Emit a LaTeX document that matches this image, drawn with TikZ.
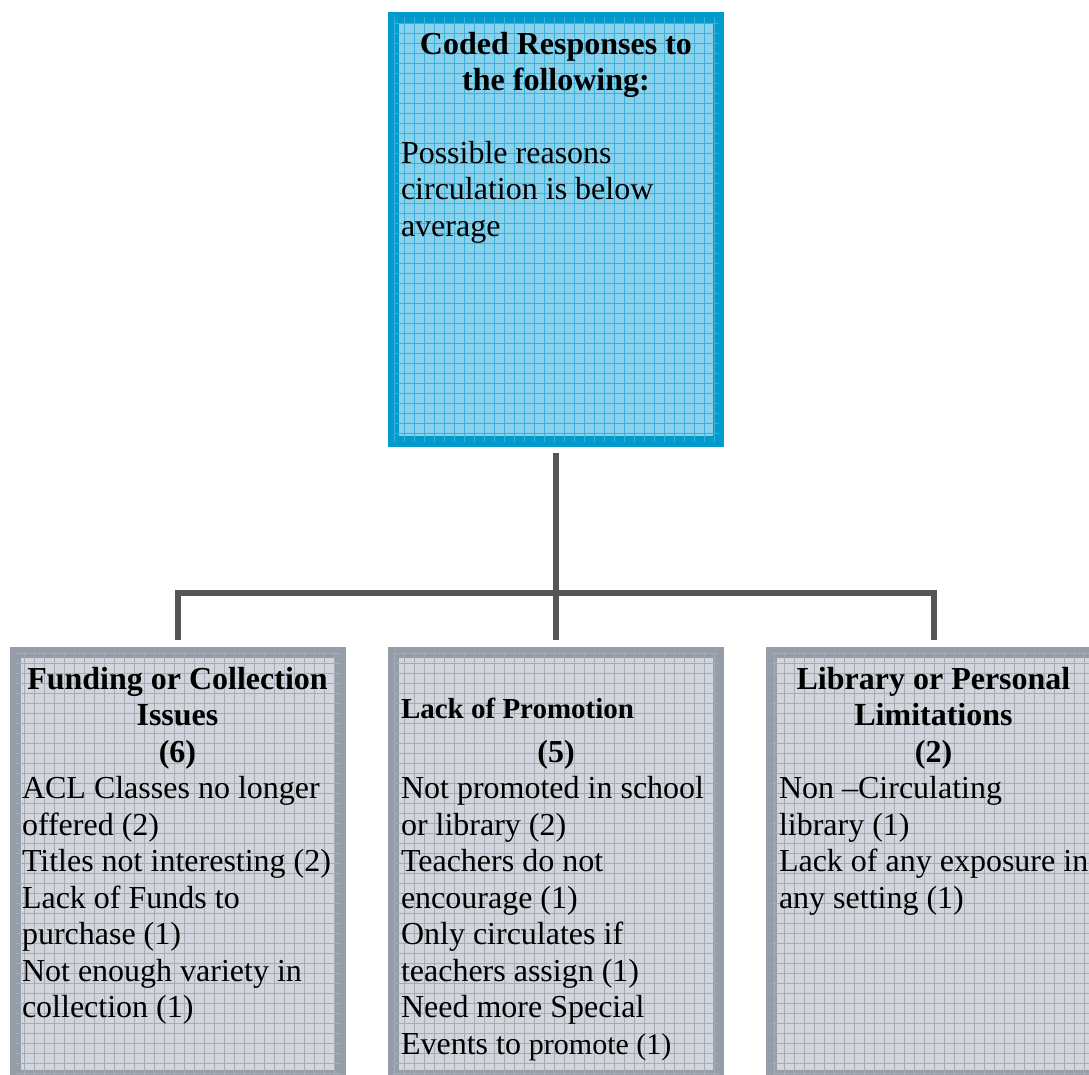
\documentclass[tikz,border=0pt]{standalone}
\usepackage{fontspec}
\setmainfont{Liberation Serif}
\definecolor{topborder}{RGB}{0,155,205}
\definecolor{topfill}{RGB}{138,210,236}
\definecolor{topgrid}{RGB}{60,175,218}
\definecolor{gborder}{RGB}{148,157,168}
\definecolor{gfill}{RGB}{210,214,220}
\definecolor{ggrid}{RGB}{165,172,182}
\definecolor{conncol}{RGB}{85,85,85}
\tikzset{
  boxshape/.style={rectangle, inner sep=0pt, line width=11pt, minimum width=325pt, minimum height=423pt},
  topbox/.style={boxshape, minimum height=424pt, draw=topborder, fill=topfill},
  greybox/.style={boxshape, draw=gborder, fill=gfill},
  conn/.style={line width=6pt, draw=conncol, line cap=butt, line join=miter},
  txt/.style={inner sep=0pt, outer sep=0pt},
}
\newcommand{\bodyfont}{\fontsize{32}{36.5}\selectfont}
\newcommand{\gridin}[2]{%
  \begin{scope}
    \clip ([xshift=5.5pt,yshift=-5.5pt]#1.north west) rectangle ([xshift=-5.5pt,yshift=5.5pt]#1.south east);
    \foreach \gi in {0,...,109} {\draw[#2, line width=0.7pt] (\gi*10+4,0) -- (\gi*10+4,1080);}
    \foreach \gj in {0,...,108} {\draw[#2, line width=0.7pt] (0,\gj*10+3) -- (1090,\gj*10+3);}
  \end{scope}}
\begin{document}
\begin{tikzpicture}[x=1pt,y=-1pt]
\useasboundingbox (0,0) rectangle (1089,1074);
\clip (0,0) rectangle (1089,1074);
% boxes
\node[topbox] (top) at (556,229.5) {};
\gridin{top}{topgrid}
\node[greybox] (left) at (178,864) {};
\gridin{left}{ggrid}
\node[greybox] (mid) at (556,864) {};
\gridin{mid}{ggrid}
\node[greybox] (right) at (934,864) {};
\gridin{right}{ggrid}
% connectors
\coordinate (hub) at (556,592.5);
\draw[conn] ([yshift=-6pt]top.south) -- ([yshift=7pt]mid.north);
\draw[conn] ([yshift=7pt]left.north) -- (left.north |- hub) -- (right.north |- hub) -- ([yshift=7pt]right.north);
% top text
\node[txt, anchor=base] (tophead) at (556,54) {\parbox[t]{320pt}{\centering\bodyfont\bfseries Coded Responses to\\the following:}};
\node[txt, anchor=base west] (topbody) at (401,163) {\parbox[t]{320pt}{\raggedright\bodyfont Possible reasons\\circulation is below\\average}};
% left text
\node[txt, anchor=base] (lefthead) at (177.5,689) {\parbox[t]{330pt}{\centering\bodyfont\bfseries Funding or Collection\\Issues\\(6)}};
\node[txt, anchor=base west] (leftbody) at (22,798.5) {\parbox[t]{330pt}{\raggedright\bodyfont ACL Classes no longer\\offered (2)\\Titles not interesting (2)\\Lack of Funds to\\purchase (1)\\Not enough variety in\\collection (1)}};
% middle text
\node[txt, anchor=base west] (midhead) at (401,718) {\fontsize{29}{34}\selectfont\bfseries Lack of Promotion};
\node[txt, anchor=base] (midnum) at (556,762) {\bodyfont\bfseries (5)};
\node[txt, anchor=base west] (midbody) at (401,798.5) {\parbox[t]{330pt}{\raggedright\bodyfont Not promoted in school\\or library (2)\\Teachers do not\\encourage (1)\\Only circulates if\\teachers assign (1)\\Need more Special\\Events to {\fontsize{30}{36.5}\selectfont promote (1)}}};
% right text
\node[txt, anchor=base] (righthead) at (933.5,689) {\parbox[t]{330pt}{\centering\bodyfont\bfseries Library or Personal\\Limitations\\(2)}};
\node[txt, anchor=base west] (rightbody) at (779,798.5) {\parbox[t]{330pt}{\raggedright\bodyfont Non --Circulating\\library (1)\\Lack of any exposure in\\any setting (1)}};
\end{tikzpicture}
\end{document}
